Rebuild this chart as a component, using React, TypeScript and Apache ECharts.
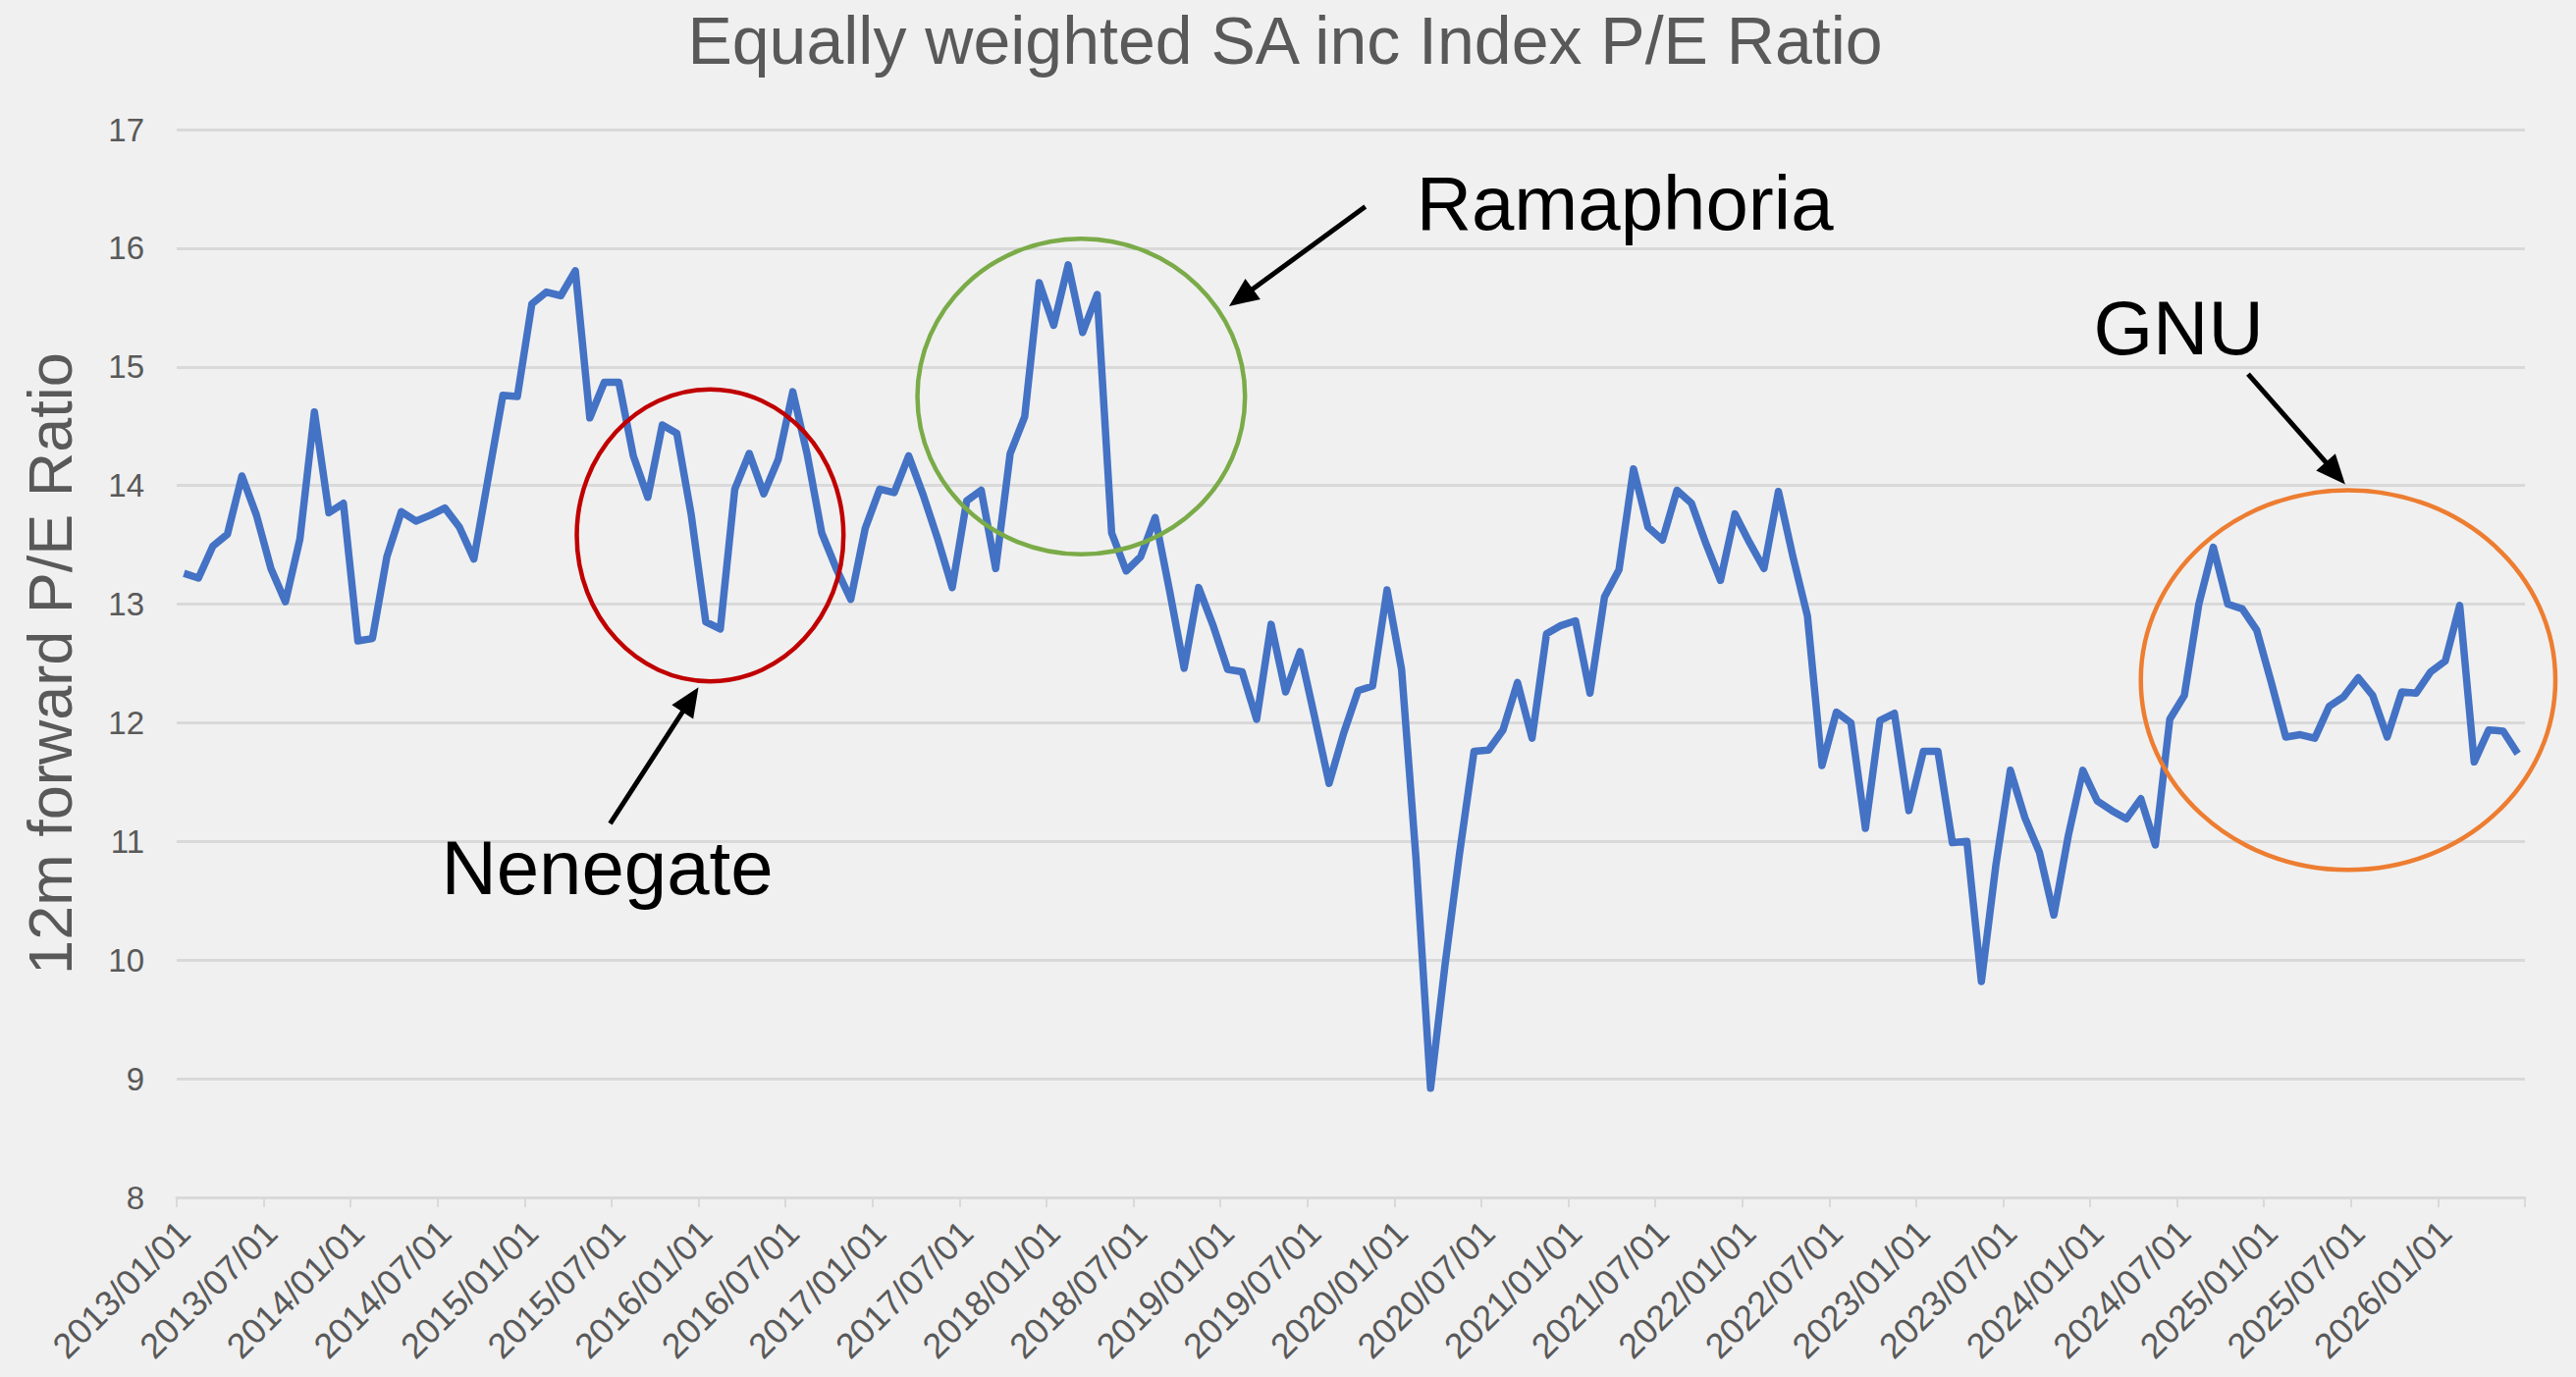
import React, { useEffect, useRef } from "react";
import * as echarts from "echarts";

// ---- categories (monthly, 2013/01 .. 2026/06) ----
const startYear = 2013;
const monthCount = 162;
const categories: string[] = [];
for (let i = 0; i < monthCount; i++) {
  const y = startYear + Math.floor(i / 12);
  const mo = (i % 12) + 1;
  categories.push(`${y}/${String(mo).padStart(2, "0")}/01`);
}

// ---- 12m forward P/E values ----
const pe2013 = [13.26, 13.22, 13.49, 13.59, 14.08, 13.75, 13.3, 13.02, 13.55, 14.62, 13.77, 13.85];
const pe2014 = [12.69, 12.71, 13.4, 13.78, 13.7, 13.75, 13.81, 13.65, 13.38, 14.07, 14.76, 14.75];
const pe2015 = [15.53, 15.63, 15.6, 15.81, 14.57, 14.87, 14.87, 14.25, 13.9, 14.51, 14.44, 13.75];
const pe2016 = [12.85, 12.79, 13.97, 14.27, 13.93, 14.22, 14.79, 14.26, 13.6, 13.3, 13.04, 13.64];
const pe2017 = [13.97, 13.94, 14.25, 13.92, 13.55, 13.14, 13.87, 13.96, 13.3, 14.27, 14.58, 15.71];
const pe2018 = [15.35, 15.86, 15.29, 15.61, 13.6, 13.28, 13.4, 13.73, 13.11, 12.46, 13.14, 12.82];
const pe2019 = [12.45, 12.43, 12.03, 12.83, 12.26, 12.6, 12.05, 11.49, 11.91, 12.27, 12.31, 13.12];
const pe2020 = [12.45, 10.85, 8.92, 9.96, 10.9, 11.76, 11.77, 11.94, 12.34, 11.87, 12.75, 12.82];
const pe2021 = [12.86, 12.25, 13.06, 13.29, 14.14, 13.65, 13.54, 13.96, 13.85, 13.51, 13.2, 13.76];
const pe2022 = [13.52, 13.3, 13.95, 13.4, 12.9, 11.64, 12.09, 12.0, 11.11, 12.02, 12.08, 11.26];
const pe2023 = [11.76, 11.76, 10.99, 11.0, 9.82, 10.8, 11.6, 11.2, 10.91, 10.38, 11.05, 11.6];
const pe2024 = [11.34, 11.26, 11.19, 11.36, 10.97, 12.03, 12.23, 13.0, 13.48, 13.0, 12.96, 12.78];
const pe2025 = [12.34, 11.88, 11.9, 11.87, 12.14, 12.22, 12.38, 12.23, 11.88, 12.26, 12.25, 12.43];
const pe2026 = [12.52, 12.99, 11.67, 11.94, 11.93, 11.74];

const peRatio = [
  ...pe2013, ...pe2014, ...pe2015, ...pe2016, ...pe2017, ...pe2018, ...pe2019,
  ...pe2020, ...pe2021, ...pe2022, ...pe2023, ...pe2024, ...pe2025, ...pe2026,
];

// y axis ticks
const yMin = 8;
const yMax = 17;
const yStep = 1;

// ---- annotations in data coordinates [month index, P/E] ----
const circleCenters = [[36.3, 13.58], [61.9, 14.75], [149.3, 12.36]];
const circleRadii = [[9.2, 1.23], [11.3, 1.33], [14.3, 1.6]];
const circleColors = ["#c00000", "#7aab48", "#ed7d31"];

const arrowTails = [[29.4, 11.15], [81.5, 16.35], [142.4, 14.94]];
const arrowHeads = [[35.5, 12.3], [72.1, 15.51], [149.1, 14.01]];

const noteTexts = ["Nenegate", "Ramaphoria", "GNU"];
const notePositions = [[29.2, 10.78], [99.4, 16.38], [137.6, 15.33]];

const FONT = "Liberation Sans";

export default function App() {
  const ref = useRef<HTMLDivElement>(null);

  useEffect(() => {
    if (!ref.current) return;
    const chart = echarts.init(ref.current, null, { renderer: "svg" });

    const option: any = {
      animation: false,
      backgroundColor: "#f0f0f0",
      textStyle: { fontFamily: FONT },
      title: {
        text: "Equally weighted SA inc Index P/E Ratio",
        left: 1304,
        top: 2,
        textAlign: "center",
        textStyle: { fontSize: 68, fontWeight: "normal", color: "#595959", fontFamily: FONT },
      },
      grid: { left: 180, right: 52, top: 132, bottom: 183, containLabel: false },
      xAxis: [
        {
          type: "category",
          data: categories,
          boundaryGap: true,
          axisLine: { lineStyle: { color: "#d9d9d9", width: 3 } },
          axisTick: { show: true, interval: 5, length: 10, lineStyle: { color: "#d9d9d9", width: 2 } },
          axisLabel: { interval: 5, rotate: 45, fontSize: 36, color: "#595959", margin: 30, fontFamily: FONT },
          splitLine: { show: false },
        },
        { type: "value", min: -0.5, max: monthCount - 0.5, show: false },
      ],
      yAxis: {
        type: "value",
        min: yMin,
        max: yMax,
        interval: yStep,
        name: "12m forward P/E Ratio",
        nameLocation: "middle",
        nameRotate: 90,
        nameGap: 98,
        nameTextStyle: { fontSize: 63, color: "#595959", fontFamily: FONT },
        axisLine: { show: false },
        axisTick: { show: false },
        axisLabel: { fontSize: 33, color: "#595959", margin: 33, fontFamily: FONT },
        splitLine: { lineStyle: { color: "#d9d9d9", width: 3 } },
      },
      series: [
        {
          type: "line",
          data: peRatio,
          xAxisIndex: 0,
          yAxisIndex: 0,
          symbol: "none",
          showSymbol: false,
          lineStyle: { color: "#4472c4", width: 7.5, join: "round" },
          itemStyle: { color: "#4472c4" },
          z: 3,
        },
      ],
    };
    chart.setOption(option);

    const px = (p: number[]) =>
      chart.convertToPixel({ xAxisIndex: 1, yAxisIndex: 0 } as any, p) as number[];

    const graphics: any[] = [];
    circleCenters.forEach((c, i) => {
      const pc = px(c);
      const pe = px([c[0] + circleRadii[i][0], c[1] + circleRadii[i][1]]);
      graphics.push({
        type: "ellipse",
        z: 10,
        shape: { cx: pc[0], cy: pc[1], rx: Math.abs(pe[0] - pc[0]), ry: Math.abs(pc[1] - pe[1]) },
        style: { fill: "none", stroke: circleColors[i], lineWidth: 4.5 },
      });
    });
    arrowTails.forEach((t, i) => {
      const a = px(t);
      const b = px(arrowHeads[i]);
      const dx = b[0] - a[0];
      const dy = b[1] - a[1];
      const len = Math.sqrt(dx * dx + dy * dy);
      const ux = dx / len;
      const uy = dy / len;
      const headLen = 30;
      const headHalf = 13;
      const bx = b[0] - ux * headLen;
      const by = b[1] - uy * headLen;
      graphics.push({
        type: "line",
        z: 11,
        shape: { x1: a[0], y1: a[1], x2: bx + ux * 4, y2: by + uy * 4 },
        style: { stroke: "#000000", lineWidth: 5 },
      });
      graphics.push({
        type: "polygon",
        z: 11,
        shape: {
          points: [
            [b[0], b[1]],
            [bx - uy * headHalf, by + ux * headHalf],
            [bx + uy * headHalf, by - ux * headHalf],
          ],
        },
        style: { fill: "#000000" },
      });
    });
    noteTexts.forEach((txt, i) => {
      const p = px(notePositions[i]);
      graphics.push({
        type: "text",
        z: 12,
        x: p[0],
        y: p[1],
        style: {
          text: txt,
          fill: "#000000",
          font: `78px "${FONT}"`,
          fontSize: 78,
          fontFamily: FONT,
          textAlign: "center",
          textVerticalAlign: "middle",
        },
      });
    });
    chart.setOption({ graphic: graphics });

    return () => chart.dispose();
  }, []);

  return (
    <div
      ref={ref}
      style={{ position: "fixed", left: 0, top: 0, width: "2624px", height: "1403px" }}
    />
  );
}
